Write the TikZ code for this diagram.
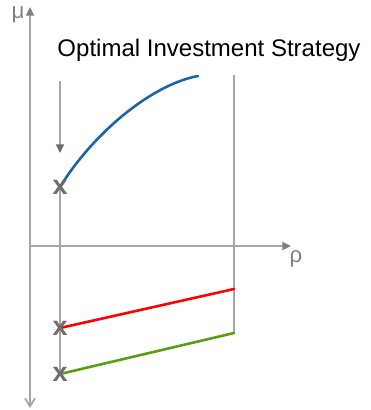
\documentclass[tikz,border=0pt]{standalone}
\usepackage{fontspec}
\setmainfont{Liberation Sans}
\usepackage{xcolor}
\usepackage{tikz}
\usetikzlibrary{arrows.meta,positioning,calc}
\definecolor{axisgray}{RGB}{166,166,166}
\definecolor{markgray}{RGB}{112,108,104}
\definecolor{curveblue}{RGB}{28,100,170}
\definecolor{lowred}{RGB}{255,0,0}
\definecolor{lowgreen}{RGB}{88,158,16}
\tikzset{
    axisline/.style={
        draw=axisgray,
        line width=1.5pt
    },
    axisarrow/.style={
        axisline,
        -{Triangle[length=2.6mm,width=2.4mm,color=gray]}
    },
    guidearrow/.style={
        axisline,
        -{Triangle[length=2.6mm,width=2.4mm,color=gray!85!black]}
    },
    xmark/.style={
        inner sep=0pt,
        text=markgray,
        font=\fontsize{23}{24}\selectfont\bfseries
    },
    axislabel/.style={
        inner sep=0pt,
        text=gray,
        font=\fontsize{19}{22}\selectfont
    },
    curve/.style={
        line width=2.2pt,
        line cap=round
    }
}

\begin{document}
\begin{tikzpicture}[x=0.03cm,y=-0.03cm]
    \useasboundingbox (0,0) rectangle (371,410);

    % axes
    \coordinate (origin) at (30,246);
    \coordinate (mutop) at (30,7);
    \coordinate (mubot) at (30,408);
    \coordinate (rhoend) at (291,246);
    \draw[axisarrow] (origin) -- (mutop);
    \draw[axisline, -{Straight Barb[length=2.4mm,width=3mm]}] (origin) -- (mubot);
    \draw[axisarrow] (origin) -- (rhoend);
    \node[axislabel] (mu) at (18,15) {μ};
    \node[axislabel] (rho) at (296,259) {ρ};

    \node[font=\fontsize{20.5}{24}\selectfont] (title) at (209,50) {Optimal Investment Strategy};

    % left side
    \coordinate (ptop) at (60,187);
    \coordinate (pred) at (60,328);
    \coordinate (pgreen) at (60,374);
    \coordinate (guide) at (60,81);
    \coordinate (guidetip) at (60,153);
    \draw[guidearrow] (guide) -- (guidetip);
    \draw[axisline] (ptop) -- (pgreen);

    % right border
    \coordinate (rtop) at (234,75);
    \coordinate (rbot) at (234,333);
    \coordinate (rred) at (234,289);
    \draw[axisline] (rtop) -- (rbot);

    % curves
    \coordinate (cend) at (198,76);
    \draw[curve, curveblue] (ptop) .. controls (92,135) and (150,85) .. (cend);
    \draw[curve, lowred] (pred) -- (rred);
    \draw[curve, lowgreen] (pgreen) -- (rbot);

    % marks
    \node[xmark] (xtop) at (ptop) {x};
    \node[xmark] (xred) at (pred) {x};
    \node[xmark] (xgreen) at (pgreen) {x};
\end{tikzpicture}
\end{document}
